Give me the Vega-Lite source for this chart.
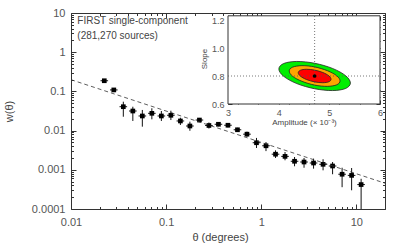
{
  "$schema": "https://vega.github.io/schema/vega-lite/v6.json",
  "width": 314,
  "height": 196,
  "autosize": {"type": "none"},
  "padding": {"left": 71, "top": 13, "right": 14, "bottom": 35},
  "background": "white",
  "config": {
    "view": {"stroke": "#333", "strokeWidth": 1},
    "font": "Liberation Sans",
    "axis": {"labelFont": "Liberation Sans", "titleFont": "Liberation Sans", "labelColor": "#555", "titleColor": "#444", "tickColor": "#333", "grid": false, "domain": false, "titleFontWeight": "normal", "labelOverlap": false, "labelBound": false, "labelFlush": false}
  },
  "datasets": {
    "obs": [
      {"t": 0.02239, "w": 0.187, "lo": 0.169, "hi": 0.207, "tl": 0.02042, "th": 0.02455},
      {"t": 0.02818, "w": 0.109, "lo": 0.0966, "hi": 0.122, "tl": 0.0257, "th": 0.0309},
      {"t": 0.03548, "w": 0.0407, "lo": 0.0226, "hi": 0.0546, "tl": 0.03236, "th": 0.0389},
      {"t": 0.04467, "w": 0.0316, "lo": 0.0176, "hi": 0.0407, "tl": 0.04074, "th": 0.04898},
      {"t": 0.05623, "w": 0.0236, "lo": 0.0126, "hi": 0.0336, "tl": 0.05129, "th": 0.06166},
      {"t": 0.07079, "w": 0.0276, "lo": 0.0194, "hi": 0.0371, "tl": 0.06457, "th": 0.07762},
      {"t": 0.08913, "w": 0.0236, "lo": 0.0176, "hi": 0.0316, "tl": 0.08128, "th": 0.09772},
      {"t": 0.1122, "w": 0.0246, "lo": 0.0186, "hi": 0.0322, "tl": 0.1023, "th": 0.123},
      {"t": 0.1413, "w": 0.0176, "lo": 0.0139, "hi": 0.0213, "tl": 0.1288, "th": 0.1549},
      {"t": 0.1778, "w": 0.0131, "lo": 0.0099, "hi": 0.0169, "tl": 0.1622, "th": 0.195},
      {"t": 0.2239, "w": 0.0186, "lo": 0.0166, "hi": 0.021, "tl": 0.2042, "th": 0.2455},
      {"t": 0.2818, "w": 0.0135, "lo": 0.0113, "hi": 0.0161, "tl": 0.257, "th": 0.309},
      {"t": 0.3548, "w": 0.0145, "lo": 0.0129, "hi": 0.0163, "tl": 0.3236, "th": 0.389},
      {"t": 0.4467, "w": 0.0137, "lo": 0.0121, "hi": 0.0155, "tl": 0.4074, "th": 0.4898},
      {"t": 0.5623, "w": 0.0105, "lo": 0.0093, "hi": 0.0118, "tl": 0.5129, "th": 0.6166},
      {"t": 0.7079, "w": 0.0081, "lo": 0.007, "hi": 0.0094, "tl": 0.6457, "th": 0.7762},
      {"t": 0.8913, "w": 0.0049, "lo": 0.0036, "hi": 0.0065, "tl": 0.8128, "th": 0.9772},
      {"t": 1.122, "w": 0.0041, "lo": 0.003, "hi": 0.0051, "tl": 1.023, "th": 1.23},
      {"t": 1.413, "w": 0.0025, "lo": 0.002, "hi": 0.00314, "tl": 1.288, "th": 1.549},
      {"t": 1.778, "w": 0.0022, "lo": 0.00175, "hi": 0.00284, "tl": 1.622, "th": 1.95},
      {"t": 2.239, "w": 0.00165, "lo": 0.00123, "hi": 0.00212, "tl": 2.042, "th": 2.455},
      {"t": 2.818, "w": 0.00158, "lo": 0.00113, "hi": 0.002, "tl": 2.57, "th": 3.09},
      {"t": 3.548, "w": 0.00149, "lo": 0.00107, "hi": 0.00193, "tl": 3.236, "th": 3.89},
      {"t": 4.467, "w": 0.00138, "lo": 0.00097, "hi": 0.00186, "tl": 4.074, "th": 4.898},
      {"t": 5.623, "w": 0.00125, "lo": 0.00077, "hi": 0.00158, "tl": 5.129, "th": 6.166},
      {"t": 7.079, "w": 0.00077, "lo": 0.00036, "hi": 0.00113, "tl": 6.457, "th": 7.762},
      {"t": 8.913, "w": 0.00072, "lo": 0.0003, "hi": 0.00111, "tl": 8.128, "th": 9.772},
      {"t": 11.22, "w": 0.00042, "lo": 0.00001, "hi": 0.00059, "tl": 10.23, "th": 12.3}
    ],
    "fit": [
      {"t": 0.01, "w": 0.199},
      {"t": 20, "w": 0.000455}
    ],
    "notes": [
      {"t": 0.01165, "w": 6.37, "txt": "FIRST single-component"},
      {"t": 0.01165, "w": 2.59, "txt": "(281,270 sources)"}
    ],
    "frame": [
      {"a0": 3, "a1": 6, "s0": 0.6, "s1": 1.23}
    ],
    "best": [
      {"a": 4.71, "s": 0.8, "a0": 3, "a1": 6, "s0": 0.6, "s1": 1.23}
    ],
    "ell": [
      {"e": "green", "i": 0, "a": 5.416, "s": 0.750},
      {"e": "green", "i": 1, "a": 5.322, "s": 0.711},
      {"e": "green", "i": 2, "a": 5.063, "s": 0.696},
      {"e": "green", "i": 3, "a": 4.710, "s": 0.709},
      {"e": "green", "i": 4, "a": 4.357, "s": 0.746},
      {"e": "green", "i": 5, "a": 4.098, "s": 0.798},
      {"e": "green", "i": 6, "a": 4.004, "s": 0.850},
      {"e": "green", "i": 7, "a": 4.098, "s": 0.889},
      {"e": "green", "i": 8, "a": 4.357, "s": 0.904},
      {"e": "green", "i": 9, "a": 4.710, "s": 0.891},
      {"e": "green", "i": 10, "a": 5.063, "s": 0.854},
      {"e": "green", "i": 11, "a": 5.322, "s": 0.802},
      {"e": "orange", "i": 0, "a": 5.212, "s": 0.765},
      {"e": "orange", "i": 1, "a": 5.145, "s": 0.737},
      {"e": "orange", "i": 2, "a": 4.961, "s": 0.726},
      {"e": "orange", "i": 3, "a": 4.710, "s": 0.735},
      {"e": "orange", "i": 4, "a": 4.459, "s": 0.762},
      {"e": "orange", "i": 5, "a": 4.275, "s": 0.798},
      {"e": "orange", "i": 6, "a": 4.208, "s": 0.836},
      {"e": "orange", "i": 7, "a": 4.275, "s": 0.863},
      {"e": "orange", "i": 8, "a": 4.459, "s": 0.874},
      {"e": "orange", "i": 9, "a": 4.710, "s": 0.865},
      {"e": "orange", "i": 10, "a": 4.961, "s": 0.838},
      {"e": "orange", "i": 11, "a": 5.145, "s": 0.802},
      {"e": "red", "i": 0, "a": 5.034, "s": 0.777},
      {"e": "red", "i": 1, "a": 4.991, "s": 0.759},
      {"e": "red", "i": 2, "a": 4.872, "s": 0.752},
      {"e": "red", "i": 3, "a": 4.710, "s": 0.758},
      {"e": "red", "i": 4, "a": 4.548, "s": 0.775},
      {"e": "red", "i": 5, "a": 4.429, "s": 0.799},
      {"e": "red", "i": 6, "a": 4.386, "s": 0.823},
      {"e": "red", "i": 7, "a": 4.429, "s": 0.841},
      {"e": "red", "i": 8, "a": 4.548, "s": 0.848},
      {"e": "red", "i": 9, "a": 4.710, "s": 0.842},
      {"e": "red", "i": 10, "a": 4.872, "s": 0.825},
      {"e": "red", "i": 11, "a": 4.991, "s": 0.801}
    ]
  },
  "layer": [
    {
      "layer": [
        {
          "data": {"name": "obs"},
          "mark": {"type": "rule", "color": "#111", "strokeWidth": 1, "clip": true},
          "encoding": {
            "x": {"field": "t", "type": "quantitative", "scale": {"type": "log", "domain": [0.01, 20], "nice": false},
              "axis": {"orient": "bottom", "title": "θ (degrees)", "titleFontSize": 11, "titlePadding": 2, "titleX": 149,
                "values": [0.01,0.02,0.03,0.04,0.05,0.06,0.07,0.08,0.09,0.1,0.2,0.3,0.4,0.5,0.6,0.7,0.8,0.9,1,2,3,4,5,6,7,8,9,10,20],
                "format": "~g", "labelFontSize": 11, "labelPadding": 12, "labelBound": false,
                "labelExpr": "abs(log(datum.value)/LN10 - round(log(datum.value)/LN10)) < 0.000001 ? datum.label : ''",
                "tickSize": {"condition": {"test": "abs(log(datum.value)/LN10 - round(log(datum.value)/LN10)) < 0.000001", "value": -5}, "value": -2.5}}},
            "y": {"field": "lo", "type": "quantitative", "scale": {"type": "log", "domain": [0.0001, 10], "nice": false},
              "axis": {"orient": "left", "title": "w(θ)", "titleFontSize": 11, "titlePadding": 17,
                "values": [0.0001,0.0002,0.0003,0.0004,0.0005,0.0006,0.0007,0.0008,0.0009,0.001,0.002,0.003,0.004,0.005,0.006,0.007,0.008,0.009,0.01,0.02,0.03,0.04,0.05,0.06,0.07,0.08,0.09,0.1,0.2,0.3,0.4,0.5,0.6,0.7,0.8,0.9,1,2,3,4,5,6,7,8,9,10],
                "format": "~g", "labelFontSize": 11, "labelPadding": 11, "labelBound": false,
                "labelExpr": "abs(log(datum.value)/LN10 - round(log(datum.value)/LN10)) < 0.000001 ? datum.label : ''",
                "tickSize": {"condition": {"test": "abs(log(datum.value)/LN10 - round(log(datum.value)/LN10)) < 0.000001", "value": -5}, "value": -2.5}}},
            "y2": {"field": "hi"}
          }
        },
        {
          "data": {"name": "obs"},
          "mark": {"type": "rule", "color": "#111", "strokeWidth": 1},
          "encoding": {
            "x": {"field": "tl", "type": "quantitative", "scale": {"type": "log", "domain": [0.01, 20], "nice": false}},
            "x2": {"field": "th"},
            "y": {"field": "w", "type": "quantitative", "scale": {"type": "log", "domain": [0.0001, 10], "nice": false}}
          }
        },
        {
          "data": {"name": "obs"},
          "mark": {"type": "square", "color": "#000", "filled": true, "opacity": 1, "size": 22},
          "encoding": {
            "x": {"field": "t", "type": "quantitative", "scale": {"type": "log", "domain": [0.01, 20], "nice": false}},
            "y": {"field": "w", "type": "quantitative", "scale": {"type": "log", "domain": [0.0001, 10], "nice": false}}
          }
        },
        {
          "data": {"name": "notes"},
          "mark": {"type": "text", "align": "left", "baseline": "middle", "fontSize": 10, "color": "#444", "font": "Liberation Sans"},
          "encoding": {
            "x": {"field": "t", "type": "quantitative", "scale": {"type": "log", "domain": [0.01, 20], "nice": false}},
            "y": {"field": "w", "type": "quantitative", "scale": {"type": "log", "domain": [0.0001, 10], "nice": false}},
            "text": {"field": "txt"}
          }
        }
      ]
    },
    {
      "data": {"name": "fit"},
      "mark": {"type": "line", "color": "#333", "strokeWidth": 0.8, "strokeDash": [4, 3]},
      "encoding": {
        "x": {"field": "t", "type": "quantitative", "scale": {"type": "log", "domain": [0.01, 20], "nice": false},
          "axis": {"orient": "top", "title": null, "labels": false,
            "values": [0.01,0.02,0.03,0.04,0.05,0.06,0.07,0.08,0.09,0.1,0.2,0.3,0.4,0.5,0.6,0.7,0.8,0.9,1,2,3,4,5,6,7,8,9,10,20],
            "tickSize": {"condition": {"test": "abs(log(datum.value)/LN10 - round(log(datum.value)/LN10)) < 0.000001", "value": -5}, "value": -2.5}}},
        "y": {"field": "w", "type": "quantitative", "scale": {"type": "log", "domain": [0.0001, 10], "nice": false},
          "axis": {"orient": "right", "title": null, "labels": false,
            "values": [0.0001,0.0002,0.0003,0.0004,0.0005,0.0006,0.0007,0.0008,0.0009,0.001,0.002,0.003,0.004,0.005,0.006,0.007,0.008,0.009,0.01,0.02,0.03,0.04,0.05,0.06,0.07,0.08,0.09,0.1,0.2,0.3,0.4,0.5,0.6,0.7,0.8,0.9,1,2,3,4,5,6,7,8,9,10],
            "tickSize": {"condition": {"test": "abs(log(datum.value)/LN10 - round(log(datum.value)/LN10)) < 0.000001", "value": -5}, "value": -2.5}}}
      }
    },
    {
      "layer": [
        {
          "data": {"name": "frame"},
          "mark": {"type": "rect", "fill": "white", "stroke": "#333", "strokeWidth": 1},
          "encoding": {
            "x": {"field": "a0", "type": "quantitative", "scale": {"domain": [3, 6], "range": [157, 309], "nice": false, "zero": false},
              "axis": {"orient": "bottom", "offset": -105, "title": "Amplitude (× 10⁻³)", "titleFontSize": 8, "titlePadding": 1,
                "values": [3, 4, 5, 6], "format": "d", "labelFontSize": 9, "labelPadding": 8, "tickSize": -4, "labelBound": false, "labelOverlap": false, "labelFlush": false}},
            "x2": {"field": "a1"},
            "y": {"field": "s0", "type": "quantitative", "scale": {"domain": [0.6, 1.25], "range": [91, 0], "nice": false, "zero": false},
              "axis": {"orient": "left", "offset": -157, "title": "Slope", "titleFontSize": 8, "titlePadding": 3,
                "values": [0.6, 0.8, 1.0, 1.2], "format": ".1f", "labelFontSize": 9, "labelPadding": 8, "tickSize": -4, "labelBound": false, "labelOverlap": false, "labelFlush": false}},
            "y2": {"field": "s1"}
          }
        },
        {
          "data": {"name": "ell"},
          "transform": [{"filter": "datum.e == 'green'"}],
          "mark": {"type": "line", "interpolate": "cardinal-closed", "fill": "#00ee00", "stroke": "#222", "strokeWidth": 0.8},
          "encoding": {
            "x": {"field": "a", "type": "quantitative", "scale": {"domain": [3, 6], "range": [157, 309], "nice": false, "zero": false}},
            "y": {"field": "s", "type": "quantitative", "scale": {"domain": [0.6, 1.25], "range": [91, 0], "nice": false, "zero": false}},
            "order": {"field": "i", "type": "quantitative"}
          }
        },
        {
          "data": {"name": "ell"},
          "transform": [{"filter": "datum.e == 'orange'"}],
          "mark": {"type": "line", "interpolate": "cardinal-closed", "fill": "#ffa500", "stroke": "#222", "strokeWidth": 0.8},
          "encoding": {
            "x": {"field": "a", "type": "quantitative", "scale": {"domain": [3, 6], "range": [157, 309], "nice": false, "zero": false}},
            "y": {"field": "s", "type": "quantitative", "scale": {"domain": [0.6, 1.25], "range": [91, 0], "nice": false, "zero": false}},
            "order": {"field": "i", "type": "quantitative"}
          }
        },
        {
          "data": {"name": "ell"},
          "transform": [{"filter": "datum.e == 'red'"}],
          "mark": {"type": "line", "interpolate": "cardinal-closed", "fill": "#ff0000", "stroke": "#222", "strokeWidth": 0.8},
          "encoding": {
            "x": {"field": "a", "type": "quantitative", "scale": {"domain": [3, 6], "range": [157, 309], "nice": false, "zero": false}},
            "y": {"field": "s", "type": "quantitative", "scale": {"domain": [0.6, 1.25], "range": [91, 0], "nice": false, "zero": false}},
            "order": {"field": "i", "type": "quantitative"}
          }
        }
      ]
    },
    {
      "layer": [
        {
          "data": {"name": "best"},
          "mark": {"type": "rule", "color": "#555", "strokeWidth": 0.8, "strokeDash": [1, 2]},
          "encoding": {
            "x": {"field": "a", "type": "quantitative", "scale": {"domain": [3, 6], "range": [157, 309], "nice": false, "zero": false},
              "axis": {"orient": "bottom", "offset": -105, "title": null, "labels": false,
                "values": [3.2,3.4,3.6,3.8,4.2,4.4,4.6,4.8,5.2,5.4,5.6,5.8], "tickSize": -2}},
            "y": {"field": "s0", "type": "quantitative", "scale": {"domain": [0.6, 1.25], "range": [91, 0], "nice": false, "zero": false},
              "axis": {"orient": "left", "offset": -157, "title": null, "labels": false,
                "values": [0.65,0.7,0.75,0.85,0.9,0.95,1.05,1.1,1.15], "tickSize": -2}},
            "y2": {"field": "s1"}
          }
        },
        {
          "data": {"name": "best"},
          "mark": {"type": "rule", "color": "#555", "strokeWidth": 0.8, "strokeDash": [1, 2]},
          "encoding": {
            "x": {"field": "a0", "type": "quantitative", "scale": {"domain": [3, 6], "range": [157, 309], "nice": false, "zero": false}},
            "x2": {"field": "a1"},
            "y": {"field": "s", "type": "quantitative", "scale": {"domain": [0.6, 1.25], "range": [91, 0], "nice": false, "zero": false}}
          }
        }
      ]
    },
    {
      "data": {"name": "best"},
      "mark": {"type": "circle", "color": "#000", "opacity": 1, "size": 14},
      "encoding": {
        "x": {"field": "a", "type": "quantitative", "scale": {"domain": [3, 6], "range": [157, 309], "nice": false, "zero": false},
          "axis": {"orient": "top", "offset": -3, "title": null, "labels": false,
            "values": [3,3.2,3.4,3.6,3.8,4,4.2,4.4,4.6,4.8,5,5.2,5.4,5.6,5.8,6],
            "tickSize": {"condition": {"test": "abs(datum.value - round(datum.value)) < 0.000001", "value": -4}, "value": -2}}},
        "y": {"field": "s", "type": "quantitative", "scale": {"domain": [0.6, 1.25], "range": [91, 0], "nice": false, "zero": false},
          "axis": {"orient": "right", "offset": -5, "title": null, "labels": false,
            "values": [0.6,0.65,0.7,0.75,0.8,0.85,0.9,0.95,1,1.05,1.1,1.15,1.2],
            "tickSize": {"condition": {"test": "abs(datum.value*5 - round(datum.value*5)) < 0.000001", "value": -4}, "value": -2}}}
      }
    }
  ],
  "resolve": {"scale": {"x": "independent", "y": "independent"}}
}
